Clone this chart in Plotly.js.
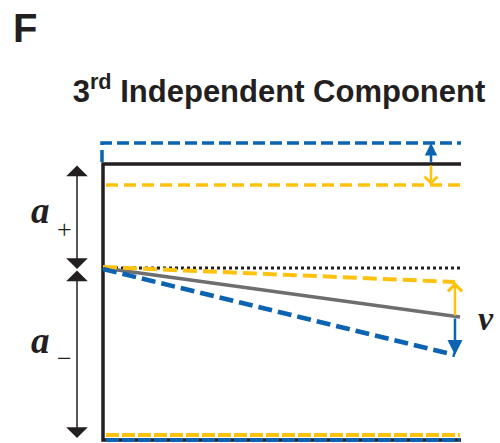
<!DOCTYPE html>
<html>
<head>
<meta charset="utf-8">
<script src="https://cdn.plot.ly/plotly-3.0.1.min.js"></script>
<style>html,body{margin:0;padding:0;background:#fff;}#chart{width:500px;height:443px;}</style>
</head>
<body>
<div id="chart"></div>
<script>
// Schematic lines (pixel-like data units on a 500 x 443 canvas, y downward)
const frameX = [461, 103, 103, 461];
const frameY = [164, 164, 440, 440];
const blueTopX = [102, 102, 461];
const blueTopY = [162, 143, 143];
const yellowTopX = [106, 461];
const yellowTopY = [185, 185];
const dottedX = [103, 460];
const dottedY = [268, 268];
const yellowSlopeX = [103, 455];
const yellowSlopeY = [267, 282];
const graySlopeX = [103, 460];
const graySlopeY = [268, 317];
const blueSlopeX = [103, 455];
const blueSlopeY = [269, 355];
const yellowBottomX = [106, 460];
const yellowBottomY = [435, 435];
const blueBottomX = [106, 460];
const blueBottomY = [440, 440];

// Arrows: [x, fromY, toY]
const arrowTopBlue = [431, 164, 143];
const arrowTopYellow = [431, 164, 185];
const arrowRightYellow = [455, 317, 282];
const arrowRightBlue = [455, 317, 355];
const arrowAPlus = [77, 164, 269];
const arrowAMinus = [77, 269, 438];

const labels = ['a', '+', 'a', '\u2212', 'v'];

const BLUE = '#0b63b1', YELLOW = '#ffc20e', GRAY = '#6d6e70', BLACK = '#231f20';

function line(x, y, color, width, dash) {
  return {x: x, y: y, type: 'scatter', mode: 'lines', hoverinfo: 'skip',
          line: {color: color, width: width, dash: dash || 'solid'}};
}

const data = [
  line(frameX, frameY, BLACK, 3.5),
  line(dottedX, dottedY, BLACK, 3, '3px,3px'),
  line(blueTopX, blueTopY, BLUE, 3.5, '12px,5px'),
  line(yellowTopX, yellowTopY, YELLOW, 3.5, '12px,6px'),
  line(graySlopeX, graySlopeY, GRAY, 3.5),
  line(yellowSlopeX, yellowSlopeY, YELLOW, 4, '14px,6px'),
  line(blueSlopeX, blueSlopeY, BLUE, 4.5, '14px,6px'),
  line(yellowBottomX, yellowBottomY, YELLOW, 4, '13px,3px'),
  line(blueBottomX, blueBottomY, BLUE, 4, '13px,3px')
];

function arrow(a, color, head, width, size, side) {
  return {x: a[0], y: a[2], ax: a[0], ay: a[1], xref: 'x', yref: 'y', axref: 'x', ayref: 'y',
          text: '', showarrow: true, arrowhead: head, startarrowhead: head,
          arrowwidth: width, arrowsize: size, startarrowsize: size,
          arrowcolor: color, arrowside: side || 'end', standoff: 0, startstandoff: 0};
}

function label(txt, x, y, size, fam, weight, style) {
  return {x: x, y: y, xref: 'x', yref: 'y', text: txt, showarrow: false,
          xanchor: 'center', yanchor: 'middle',
          font: {family: fam, size: size, color: BLACK, weight: weight || 'normal', style: style || 'normal'}};
}

const annotations = [
  arrow(arrowTopBlue, BLUE, 2, 2.5, 1.0),
  arrow(arrowTopYellow, YELLOW, 4, 2.5, 1.0),
  arrow(arrowRightYellow, YELLOW, 4, 2.5, 1.1),
  arrow(arrowRightBlue, BLUE, 2, 2.5, 1.2),
  arrow(arrowAPlus, BLACK, 1, 1.5, 2.4, 'end+start'),
  arrow(arrowAMinus, BLACK, 1, 1.5, 2.4, 'end+start'),
  label(labels[0], 40, 210, 37, 'Liberation Serif', 'bold', 'italic'),
  label(labels[1], 64, 229, 26, 'Liberation Serif'),
  label(labels[2], 40, 340, 37, 'Liberation Serif', 'bold', 'italic'),
  label(labels[3], 64, 358, 26, 'Liberation Serif'),
  label(labels[4], 486, 318, 34, 'Liberation Serif', 'bold', 'italic'),
  {x: 25, y: 28, xref: 'x', yref: 'y', text: 'F', showarrow: false, xanchor: 'center', yanchor: 'middle',
   font: {family: 'Liberation Sans, Arial', size: 40, color: BLACK, weight: 'bold'}}
];

const layout = {
  width: 500, height: 443,
  margin: {l: 0, r: 0, t: 0, b: 0},
  paper_bgcolor: '#ffffff', plot_bgcolor: '#ffffff',
  showlegend: false,
  title: {text: '3<sup>rd</sup> Independent Component', x: 0.558, xanchor: 'center',
          y: 1 - 91 / 443, yanchor: 'middle', yref: 'container',
          font: {family: 'Liberation Sans, Arial', size: 31, color: BLACK, weight: 'bold'}},
  xaxis: {range: [0, 500], visible: false, fixedrange: true},
  yaxis: {range: [443, 0], visible: false, fixedrange: true},
  annotations: annotations
};

Plotly.newPlot('chart', data, layout, {staticPlot: true, displayModeBar: false});
</script>
</body>
</html>
